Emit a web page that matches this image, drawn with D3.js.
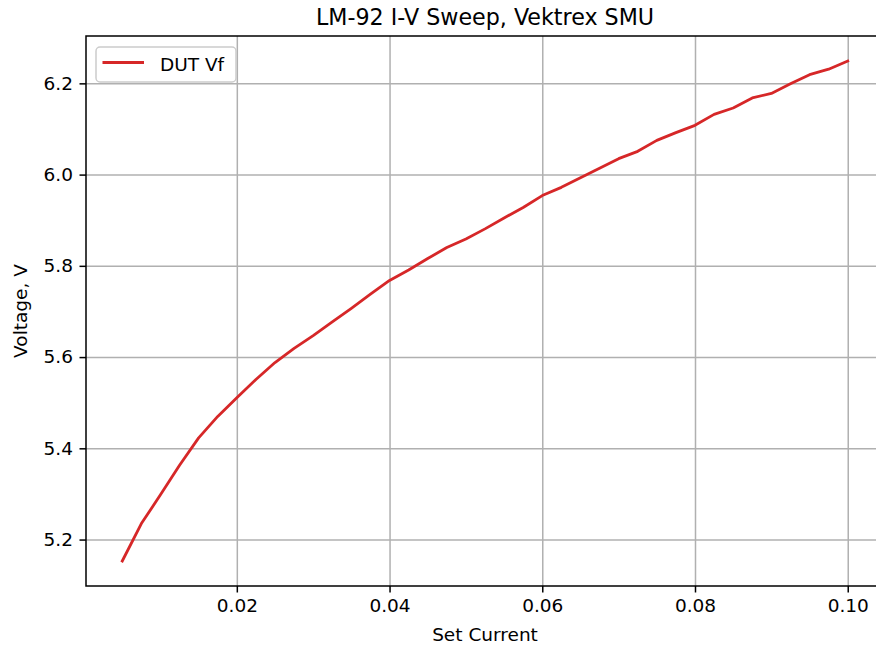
<!DOCTYPE html>
<html>
<head>
<meta charset="utf-8">
<script src="https://cdn.jsdelivr.net/npm/d3@7"></script>
<style>
  body { margin: 0; background: #fff; }
  svg { display: block; font-family: "DejaVu Sans", sans-serif; }
</style>
</head>
<body>
<div id="chart"></div>
<script>
// sweep data
var current = [0.005, 0.0075, 0.01, 0.0125, 0.015, 0.0175, 0.02, 0.0225, 0.025, 0.0275,
               0.03, 0.0325, 0.035, 0.0375, 0.04, 0.0425, 0.045, 0.0475, 0.05, 0.0525,
               0.055, 0.0575, 0.06, 0.0625, 0.065, 0.0675, 0.07, 0.0725, 0.075, 0.0775,
               0.08, 0.0825, 0.085, 0.0875, 0.09, 0.0925, 0.095, 0.0975, 0.1]
var voltage = [5.153, 5.235, 5.298, 5.363, 5.423, 5.470, 5.511, 5.551, 5.588, 5.619,
               5.647, 5.677, 5.707, 5.738, 5.768, 5.791, 5.816, 5.840, 5.859, 5.881,
               5.905, 5.928, 5.954, 5.972, 5.993, 6.014, 6.035, 6.051, 6.075, 6.092,
               6.108, 6.132, 6.146, 6.168, 6.178, 6.199, 6.219, 6.231, 6.249]
var xTicks = [0.02, 0.04, 0.06, 0.08, 0.10]
var xTickLabels = ["0.02", "0.04", "0.06", "0.08", "0.10"]
var yTicks = [5.2, 5.4, 5.6, 5.8, 6.0, 6.2]
var yTickLabels = ["5.2", "5.4", "5.6", "5.8", "6.0", "6.2"]
var seriesName = "DUT Vf"

var W = 876, H = 648
// plot box; right edge falls outside the picture
var pLeft = 86, pTop = 36, pRight = 884, pBottom = 586
var fontSize = 18.5
var red = "#d62728"

var svg = d3.select("#chart").append("svg")
  .attr("width", W)
  .attr("height", H)

var data = current.map(function(c, i) { return {x: c, y: voltage[i]} })

// matplotlib style 5% margins
var xExt = d3.extent(current), yExt = d3.extent(voltage)
var xPad = (xExt[1] - xExt[0]) * 0.05, yPad = (yExt[1] - yExt[0]) * 0.05

var x = d3.scaleLinear()
  .domain([xExt[0] - xPad, xExt[1] + xPad])
  .range([pLeft, pRight])
var y = d3.scaleLinear()
  .domain([yExt[0] - yPad, yExt[1] + yPad])
  .range([pBottom, pTop])

// grid
svg.append("g")
  .attr("transform", "translate(0," + pBottom + ")")
  .call(d3.axisBottom(x).tickValues(xTicks).tickSize(-(pBottom - pTop)).tickFormat(""))
  .call(function(g) {
    g.select(".domain").remove()
    g.selectAll("line").attr("stroke", "#b0b0b0").attr("stroke-width", 1.5)
  })
svg.append("g")
  .attr("transform", "translate(" + pLeft + ",0)")
  .call(d3.axisLeft(y).tickValues(yTicks).tickSize(-(pRight - pLeft)).tickFormat(""))
  .call(function(g) {
    g.select(".domain").remove()
    g.selectAll("line").attr("stroke", "#b0b0b0").attr("stroke-width", 1.5)
  })

// the curve
var line = d3.line()
  .x(function(d) { return x(d.x) })
  .y(function(d) { return y(d.y) })

svg.append("path")
  .datum(data)
  .attr("d", line)
  .attr("fill", "none")
  .attr("stroke", red)
  .attr("stroke-width", 2.8)
  .attr("stroke-linejoin", "round")
  .attr("stroke-linecap", "square")

// spines
svg.append("rect")
  .attr("x", pLeft).attr("y", pTop)
  .attr("width", pRight - pLeft).attr("height", pBottom - pTop)
  .attr("fill", "none")
  .attr("stroke", "#000")
  .attr("stroke-width", 1.5)

// axes ticks + labels
var xAxis = svg.append("g")
  .attr("transform", "translate(0," + pBottom + ")")
  .call(d3.axisBottom(x).tickValues(xTicks).tickSize(6.5).tickPadding(6.5)
    .tickFormat(function(d, i) { return xTickLabels[i] }))
var yAxis = svg.append("g")
  .attr("transform", "translate(" + pLeft + ",0)")
  .call(d3.axisLeft(y).tickValues(yTicks).tickSize(6.5).tickPadding(6.5)
    .tickFormat(function(d, i) { return yTickLabels[i] }))

;[xAxis, yAxis].forEach(function(g) {
  g.select(".domain").remove()
  g.selectAll("line").attr("stroke", "#000").attr("stroke-width", 1.5)
  g.selectAll("text")
    .attr("fill", "#000")
    .style("font-size", fontSize + "px")
    .style("font-family", "DejaVu Sans, sans-serif")
})

// title and axis labels
svg.append("text")
  .attr("x", (pLeft + pRight) / 2)
  .attr("y", 25)
  .attr("text-anchor", "middle")
  .style("font-size", "22.2px")
  .text("LM-92 I-V Sweep, Vektrex SMU")

svg.append("text")
  .attr("x", (pLeft + pRight) / 2)
  .attr("y", 641)
  .attr("text-anchor", "middle")
  .style("font-size", fontSize + "px")
  .text("Set Current")

svg.append("text")
  .attr("transform", "translate(27," + ((pTop + pBottom) / 2) + ") rotate(-90)")
  .attr("text-anchor", "middle")
  .style("font-size", fontSize + "px")
  .text("Voltage, V")

// legend
var legend = svg.append("g").attr("transform", "translate(96,47)")
legend.append("rect")
  .attr("width", 140).attr("height", 35)
  .attr("rx", 4)
  .attr("fill", "#fff").attr("fill-opacity", 0.8)
  .attr("stroke", "#cccccc").attr("stroke-width", 1.5)
legend.append("line")
  .attr("x1", 6.5).attr("x2", 48)
  .attr("y1", 15.5).attr("y2", 15.5)
  .attr("stroke", red).attr("stroke-width", 2.8)
legend.append("text")
  .attr("x", 64).attr("y", 23.5)
  .style("font-size", fontSize + "px")
  .text(seriesName)
</script>
</body>
</html>
